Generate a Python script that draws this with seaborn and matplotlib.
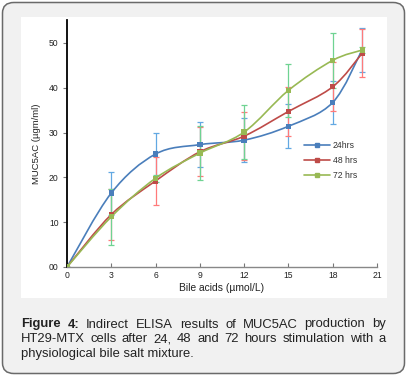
import numpy as np
import pandas as pd
import seaborn as sns
import matplotlib.pyplot as plt
from matplotlib.path import Path
from matplotlib.patches import PathPatch, FancyBboxPatch, Rectangle
from matplotlib.lines import Line2D

# data
conc = [0, 3, 6, 9, 12, 15, 18, 20]
h24 = [0, 16.5, 25.2, 27.3, 28.3, 31.4, 36.7, 48.5]
h24_err = [0, 4.8, 4.8, 5.0, 4.9, 4.9, 4.9, 4.9]
h48 = [0, 11.7, 19.2, 25.7, 29.2, 34.7, 40.2, 47.7]
h48_err = [0, 5.6, 5.3, 5.5, 5.4, 5.5, 5.5, 5.4]
h72 = [0, 11.2, 19.8, 25.4, 30.1, 39.4, 46.1, 48.4]
h72_err = [0, 6.2, 0.8, 6.0, 6.0, 5.9, 6.1, 0.6]
labels = ['24hrs', '48 hrs', '72 hrs']
x_ticks = [0, 3, 6, 9, 12, 15, 18, 21]
y_ticks = [0, 10, 20, 30, 40, 50]
y_ticklabels = ['00', '10', '20', '30', '40', '50']

line_cols = ['#4a7ebb', '#be4b48', '#98b954']
err_cols = ['#62a8e2', '#ff7a7a', '#6fd392']

sns.set_style('white')
plt.rcParams['font.family'] = ['Liberation Sans', 'DejaVu Sans']

W, H = 407, 376
fig = plt.figure(figsize=(W / 100, H / 100), dpi=100)
fig.patch.set_facecolor('white')

# outer rounded card and white chart panel
card = FancyBboxPatch((2.5 / W, 2.5 / H), (W - 5) / W, (H - 5) / H,
                      boxstyle='round,pad=0,rounding_size=0.028',
                      transform=fig.transFigure, facecolor='#f1f1f1',
                      edgecolor='#6a6a6a', lw=1.1, zorder=-3)
fig.patches.append(card)
panel = Rectangle((21 / W, 1 - 298 / H), 366 / W, 281 / H,
                  transform=fig.transFigure, facecolor='white',
                  edgecolor='none', zorder=-2)
fig.patches.append(panel)

ax = fig.add_axes([67 / W, 1 - 267 / H, 310 / W, 247 / H])
ax.set_facecolor('none')

df = pd.DataFrame({
    'conc': conc * 3,
    'val': h24 + h48 + h72,
    'err': h24_err + h48_err + h72_err,
    'series': [labels[0]] * len(conc) + [labels[1]] * len(conc) + [labels[2]] * len(conc),
})


def smooth_path(x, y):
    pts = np.column_stack([x, y]).astype(float)
    n = len(pts)
    verts = [pts[0]]
    codes = [Path.MOVETO]
    for i in range(n - 1):
        p0 = pts[max(i - 1, 0)]
        p1 = pts[i]
        p2 = pts[i + 1]
        p3 = pts[min(i + 2, n - 1)]
        verts += [p1 + (p2 - p0) / 6, p2 - (p3 - p1) / 6, p2]
        codes += [Path.CURVE4] * 3
    return Path(verts, codes)


for i, lab in enumerate(labels):
    d = df[df['series'] == lab]
    ax.errorbar(d['conc'], d['val'], yerr=d['err'], fmt='none',
                ecolor=err_cols[i], elinewidth=0.9, capsize=2, capthick=0.9, zorder=2)
for i, lab in enumerate(labels):
    d = df[df['series'] == lab]
    ax.add_patch(PathPatch(smooth_path(d['conc'], d['val']), facecolor='none',
                           edgecolor=line_cols[i], lw=1.2, zorder=3 + i))

sns.scatterplot(data=df, x='conc', y='val', hue='series', palette=line_cols,
                marker='s', s=15, linewidth=0, legend=False, ax=ax, zorder=6)

ax.set_xlim(0, 21)
ax.set_ylim(0, 55.1)
ax.set_xticks(x_ticks)
ax.set_yticks(y_ticks)
ax.set_yticklabels(y_ticklabels)
ax.tick_params(axis='x', direction='in', length=3, width=0.8, color='#777777',
               labelsize=6.2, pad=3, labelcolor='#222222')
ax.tick_params(axis='y', direction='out', length=3, width=0.8, color='#777777',
               labelsize=6.2, pad=3, labelcolor='#222222', left=True)
ax.tick_params(axis='x', bottom=True)
for s in ['top', 'right']:
    ax.spines[s].set_visible(False)
ax.spines['left'].set_color('black')
ax.spines['left'].set_linewidth(1.3)
ax.spines['bottom'].set_color('#888888')
ax.spines['bottom'].set_linewidth(1.0)

ax.set_xlabel('Bile acids (µmol/L)', fontsize=7.4, color='#222222', labelpad=2)
ax.set_ylabel('MUC5AC (µgm/ml)', fontsize=6.8, color='#222222', labelpad=6)

handles = [Line2D([0], [0], color=c, lw=1.2, marker='s', markersize=3.2) for c in line_cols]
leg = ax.legend(handles, labels, loc='upper left', bbox_to_anchor=(0.765, 0.51),
                frameon=False, fontsize=6.2, handlelength=3.0, handletextpad=0.3,
                labelspacing=0.7, borderpad=0, borderaxespad=0)
for t in leg.get_texts():
    t.set_color('#333333')

# caption, justified like the journal layout
cap_lines = [
    [('Figure', True), ('4:', True), ('Indirect', False), ('ELISA', False), ('results', False),
     ('of', False), ('MUC5AC', False), ('production', False), ('by', False)],
    [('HT29-MTX', False), ('cells', False), ('after', False), ('24,', False), ('48', False),
     ('and', False), ('72', False), ('hours', False), ('stimulation', False), ('with', False),
     ('a', False)],
    [('physiological bile salt mixture.', False)],
]
baselines = [327.5, 342.2, 356.8]
x_left, x_right = 21, 386
fs = 9.4
renderer = fig.canvas.get_renderer()
for li, words in enumerate(cap_lines):
    texts = []
    for w, b in words:
        t = fig.text(0, 1 - baselines[li] / H, w, fontsize=fs, va='baseline', ha='left',
                     fontweight='bold' if b else 'normal', color='#222222')
        texts.append(t)
    widths = [t.get_window_extent(renderer).width for t in texts]
    if len(texts) > 1 and li < len(cap_lines) - 1:
        gap = (x_right - x_left - sum(widths)) / (len(texts) - 1)
    else:
        gap = 0
    x = x_left
    for t, wd in zip(texts, widths):
        t.set_x(x / W)
        x += wd + gap

fig.savefig('out.png', dpi=100)
